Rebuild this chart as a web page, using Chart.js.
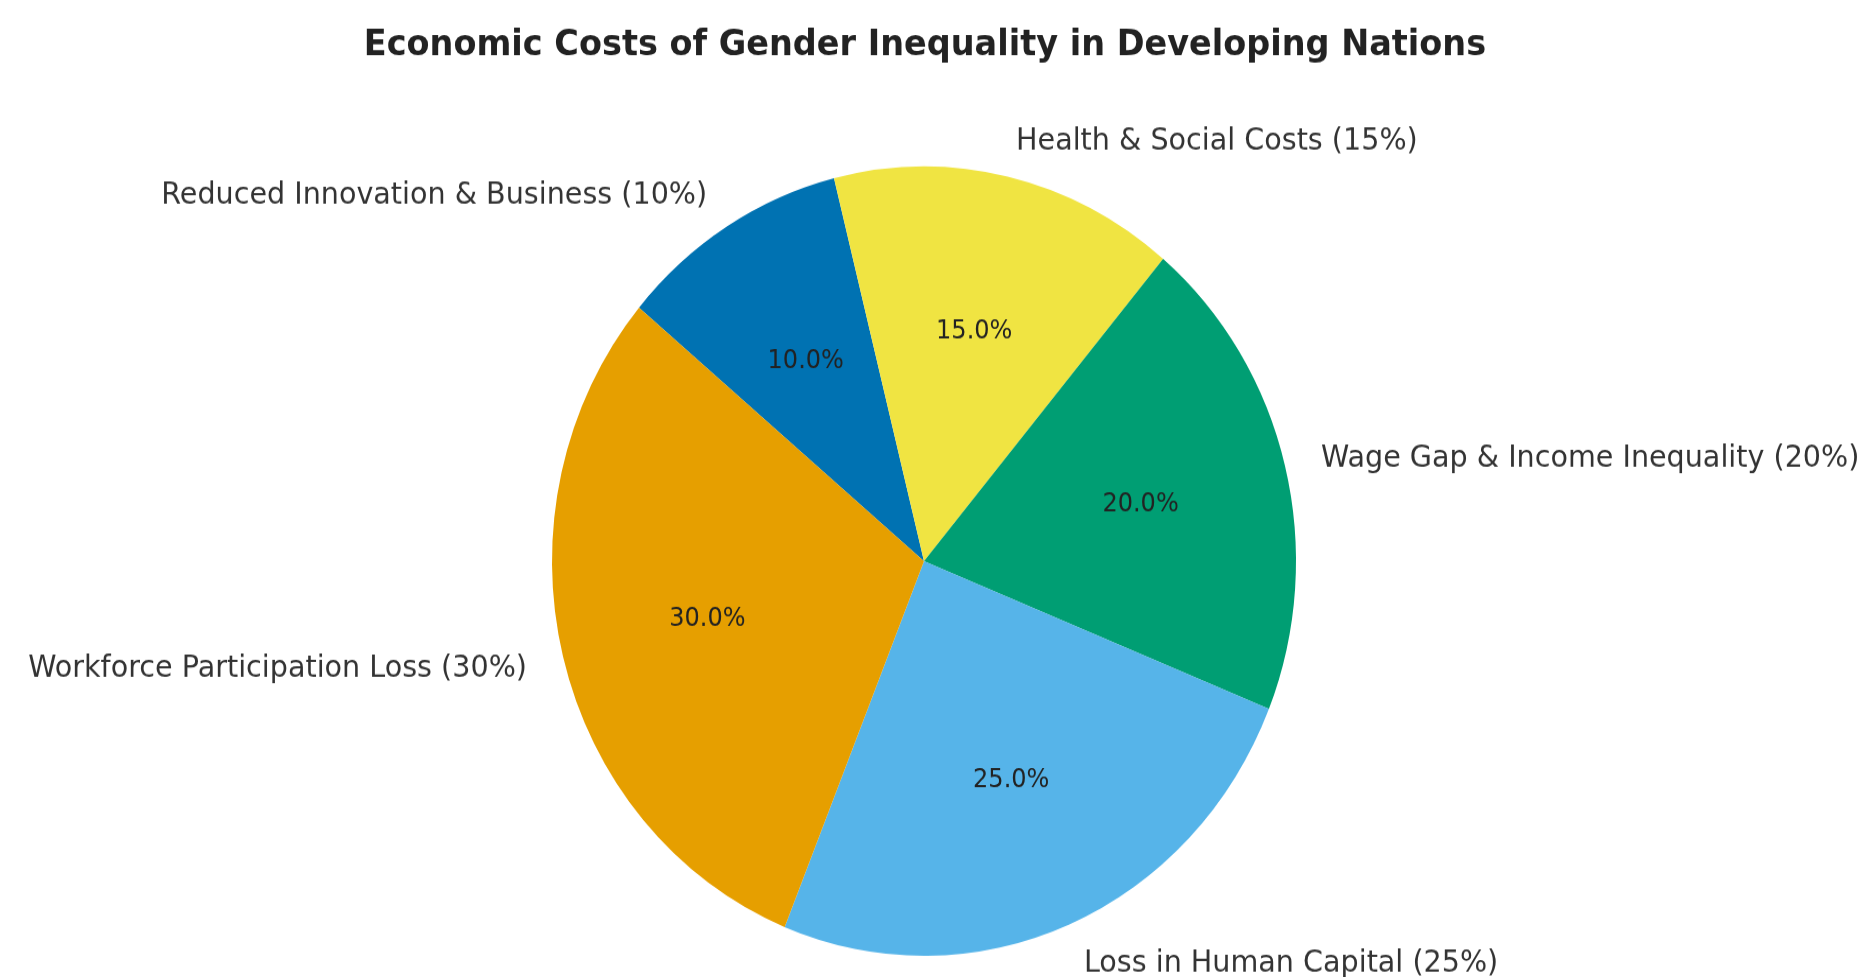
<!DOCTYPE html>
<html>
<head>
<meta charset="utf-8">
<title>Economic Costs of Gender Inequality in Developing Nations</title>
<script src="https://cdn.jsdelivr.net/npm/chart.js@4.4.1/dist/chart.umd.min.js"></script>
<style>
    html, body { margin: 0; padding: 0; background: #fff; overflow: hidden; }
    #wrap { width: 1867px; height: 977px; }
    /* the reference is slightly stretched vertically */
    #chart { display: block; transform-origin: 0 0; transform: scaleY(1.0608); }
</style>
</head>
<body>
<div id="wrap">
    <canvas id="chart" width="1867" height="921"></canvas>
</div>
<script>
// Data (matplotlib order: counterclockwise from 140 degrees)
const categories = [
    'Workforce Participation Loss',
    'Loss in Human Capital',
    'Wage Gap & Income Inequality',
    'Health & Social Costs',
    'Reduced Innovation & Business'
];
const shares = [30, 25, 20, 15, 10];
const sliceColors = ['#E69F00', '#56B4E9', '#009E73', '#F0E442', '#0072B2'];
const chartTitle = 'Economic Costs of Gender Inequality in Developing Nations';
const startAngle = 140;

const FONT = '"DejaVu Sans", sans-serif';
const total = shares.reduce((a, b) => a + b, 0);

// Chart.js draws clockwise, so feed the slices in reverse
const order = categories.map((c, i) => i).reverse();

// text labels like matplotlib's pie(labels=..., autopct='%1.1f%%')
const pieLabels = {
    id: 'pieLabels',
    afterDraw(chart) {
        const ctx = chart.ctx;
        const meta = chart.getDatasetMeta(0);

        ctx.save();
        ctx.fillStyle = '#222';
        ctx.font = 'bold 33.5px ' + FONT;
        ctx.textAlign = 'center';
        ctx.textBaseline = 'middle';
        ctx.fillText(chartTitle, 925, 43);

        meta.data.forEach((arc, i) => {
            const idx = order[i];
            const p = arc.getProps(['x', 'y', 'startAngle', 'endAngle', 'outerRadius'], true);
            const mid = (p.startAngle + p.endAngle) / 2;
            const cos = Math.cos(mid), sin = Math.sin(mid);

            // category label outside
            ctx.font = '28.6px ' + FONT;
            ctx.fillStyle = '#333';
            ctx.textAlign = cos > 0 ? 'left' : 'right';
            ctx.textBaseline = 'middle';
            ctx.fillText(categories[idx] + ' (' + shares[idx] + '%)',
                p.x + cos * p.outerRadius * 1.1, p.y + sin * p.outerRadius * 1.1 + 3);

            // percentage inside
            ctx.font = '24px ' + FONT;
            ctx.fillStyle = '#222';
            ctx.textAlign = 'center';
            ctx.fillText((shares[idx] / total * 100).toFixed(1) + '%',
                p.x + cos * p.outerRadius * 0.6, p.y + sin * p.outerRadius * 0.6 + 1);
        });
        ctx.restore();
    }
};

new Chart(document.getElementById('chart'), {
    type: 'pie',
    data: {
        labels: order.map(i => categories[i]),
        datasets: [{
            data: order.map(i => shares[i]),
            backgroundColor: order.map(i => sliceColors[i]),
            borderWidth: 0,
            hoverOffset: 0
        }]
    },
    options: {
        responsive: false,
        animation: false,
        rotation: 90 - startAngle,
        radius: 372,
        layout: {
            padding: { top: 158, bottom: 21, left: 554, right: 573 }
        },
        plugins: {
            legend: { display: false },
            tooltip: { enabled: false },
            title: { display: false }
        }
    },
    plugins: [pieLabels]
});
</script>
</body>
</html>
